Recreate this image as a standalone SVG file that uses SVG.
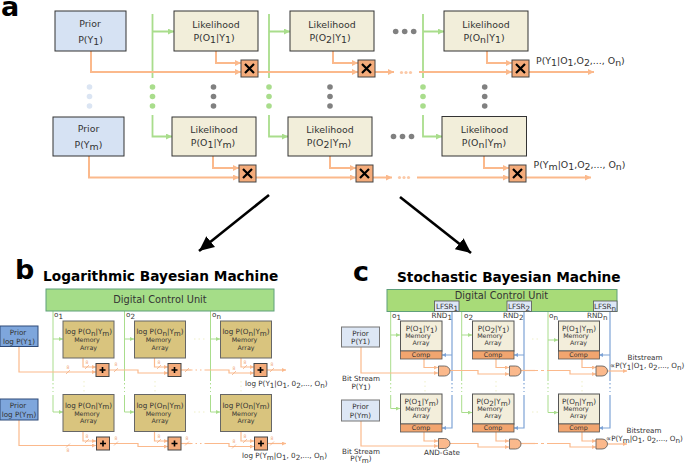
<svg xmlns="http://www.w3.org/2000/svg" width="685" height="463" viewBox="0 0 685 463">
<style>
text{font-family:"DejaVu Sans","Liberation Sans",sans-serif;fill:#333;text-anchor:middle}
.a{font-size:9.4px}
.c{font-size:7.2px}
.m{font-size:6.300px}
.w{font-size:4.6px;fill:#f0a878}
.l{text-anchor:start}
.big{font-size:27px;font-weight:bold;fill:#000;text-anchor:start}
.title{font-size:13.7px;font-weight:bold;fill:#000;text-anchor:start}
.pa{fill:#d6e2f3;stroke:#333;stroke-width:1}
.la{fill:#f2eeda;stroke:#333;stroke-width:1}
.xa{fill:#f4ab7a;stroke:#444;stroke-width:1}
.g{fill:none;stroke:#a9dd8c;stroke-width:1.800}
.o{fill:none;stroke:#fbb98c;stroke-width:2}
.g2{fill:none;stroke:#a9dd8c;stroke-width:1}
.o2{fill:none;stroke:#fbb98c;stroke-width:1.200}
.f{fill:none;stroke:#efefc8;stroke-width:1;stroke-dasharray:1.500 3}
.bl{fill:none;stroke:#7ea3d6;stroke-width:1.200}
.pb{fill:#7ea6dc;stroke:#2f4b78;stroke-width:1}
.mb{fill:#d9c47e;stroke:#666;stroke-width:1}
.pc{fill:#dde7f5;stroke:#777;stroke-width:1}
.mc{fill:#f3eedb;stroke:#555;stroke-width:1}
.cp{fill:#f2a56f;stroke:#555;stroke-width:.8}
.and{fill:#fbb98c;stroke:#555;stroke-width:.8}
.lf{fill:#dde7f5;stroke:#555;stroke-width:.8}
.k{fill:none;stroke:#000;stroke-width:2.600}
.sl{fill:none;stroke:#f0a878;stroke-width:.7}
</style>
<defs>
<marker id="mg" markerWidth="7" markerHeight="7" refX="6" refY="3" orient="auto" markerUnits="userSpaceOnUse"><path d="M0 0L6 3L0 6Z" fill="#a9dd8c"/></marker>
<marker id="mo" markerWidth="7" markerHeight="7" refX="6" refY="3" orient="auto" markerUnits="userSpaceOnUse"><path d="M0 0L6 3L0 6Z" fill="#fbb98c"/></marker>
<marker id="mg2" markerWidth="5" markerHeight="5" refX="4" refY="2" orient="auto" markerUnits="userSpaceOnUse"><path d="M0 0L4 2L0 4Z" fill="#a9dd8c"/></marker>
<marker id="mo2" markerWidth="5" markerHeight="5" refX="4" refY="2" orient="auto" markerUnits="userSpaceOnUse"><path d="M0 0L4 2L0 4Z" fill="#fbb98c"/></marker>
<marker id="mb2" markerWidth="5" markerHeight="5" refX="4" refY="2" orient="auto" markerUnits="userSpaceOnUse"><path d="M0 0L4 2L0 4Z" fill="#7ea3d6"/></marker>
<marker id="mk" markerWidth="16" markerHeight="15" refX="15" refY="7" orient="auto" markerUnits="userSpaceOnUse"><path d="M0 0L15 7L0 14Z" fill="#000"/></marker>
</defs>

<g id="connectors">
<path class="g" marker-end="url(#mg)" d="M152.500 14V78M152.500 31.500H174"/>
<path class="g" marker-end="url(#mg)" d="M269 14V78M269 31.500H290"/>
<path class="g" marker-end="url(#mg)" d="M423 14V78M423 31.500H444"/>
<path class="g" marker-end="url(#mg)" d="M152.500 115V136.500H172"/>
<path class="g" marker-end="url(#mg)" d="M269 115V136.500H288"/>
<path class="g" marker-end="url(#mg)" d="M423 115V136.500H442"/>
<path class="o" marker-end="url(#mo)" d="M91 51V72H241"/>
<path class="o" marker-end="url(#mo)" d="M216 51V63H241"/>
<path class="o" marker-end="url(#mo)" d="M258 72H358"/>
<path class="o" marker-end="url(#mo)" d="M333 51V63H358"/>
<path class="o" marker-end="url(#mo)" d="M375 72H394"/>
<path class="o" marker-end="url(#mo)" d="M419 72H512"/>
<path class="o" marker-end="url(#mo)" d="M487 51V63H512"/>
<path class="o" marker-end="url(#mo)" d="M529 72H594"/>
<path class="o" marker-end="url(#mo)" d="M89 156V177.500H239"/>
<path class="o" marker-end="url(#mo)" d="M213 156V168H239"/>
<path class="o" marker-end="url(#mo)" d="M256 177.500H356"/>
<path class="o" marker-end="url(#mo)" d="M330 156V168H356"/>
<path class="o" marker-end="url(#mo)" d="M372 177.500H392"/>
<path class="o" marker-end="url(#mo)" d="M417 177.500H509"/>
<path class="o" marker-end="url(#mo)" d="M484 156V168H509"/>
<path class="o" marker-end="url(#mo)" d="M526 177.500H591"/>
<path class="k" marker-end="url(#mk)" d="M269 195L199 251"/>
<path class="k" marker-end="url(#mk)" d="M400 197L471 253"/>

<path class="g2" marker-end="url(#mg2)" d="M53 311V381M53 339H63"/>
<path class="g2" marker-end="url(#mg2)" d="M124.500 311V381M124.500 339H134"/>
<path class="g2" marker-end="url(#mg2)" d="M210.500 311V381M210.500 339H220"/>
<path class="g2" marker-end="url(#mg2)" d="M53 395V412H63"/>
<path class="g2" marker-end="url(#mg2)" d="M124.500 395V412H134"/>
<path class="g2" marker-end="url(#mg2)" d="M210.500 395V412H220"/>
<path class="o2" marker-end="url(#mo2)" d="M19 346V372H96"/>
<path class="o2" marker-end="url(#mo2)" d="M83 358V367H96"/>
<path class="o2" marker-end="url(#mo2)" d="M109 370H138V373H168"/>
<path class="o2" marker-end="url(#mo2)" d="M154.500 358V367H168"/>
<path class="o2" d="M181 370H191"/>
<path class="o2" marker-end="url(#mo2)" d="M205 370H229V373H254"/>
<path class="o2" marker-end="url(#mo2)" d="M241 358V367H254"/>
<path class="o2" marker-end="url(#mo2)" d="M267 370H286"/>
<path class="o2" marker-end="url(#mo2)" d="M19 420V445.500H96"/>
<path class="o2" marker-end="url(#mo2)" d="M83 432V441H96"/>
<path class="o2" marker-end="url(#mo2)" d="M109 443.500H138V446.500H168"/>
<path class="o2" marker-end="url(#mo2)" d="M154.500 432V441H168"/>
<path class="o2" d="M181 443.500H191"/>
<path class="o2" marker-end="url(#mo2)" d="M205 443.500H229V446.500H254"/>
<path class="o2" marker-end="url(#mo2)" d="M241 432V441H254"/>
<path class="o2" marker-end="url(#mo2)" d="M267 443.500H286"/>
<path class="o2" stroke-dasharray="1.500 3" d="M191 370H205M191 443.500H205"/>
<path class="g2" stroke-dasharray="1.500 2.500" d="M53 383V392M124.500 383V392M210.500 383V392"/>
<path class="f" d="M84 381V392M155 381V392M241 381V392M194 339H205M194 412H205"/>
<path class="sl" d="M66 374L70 370M85 369L89 365M114 372L118 368M157 369L161 365M185 372L189 368M232 375L236 371M243 369L247 365M270 372L274 368M66 447.500L70 443.500M85 443L89 439M114 445.500L118 441.500M157 443L161 439M185 445.500L189 441.500M232 448.500L236 444.500M243 443L247 439M270 445.500L274 441.500"/>

<path class="g2" marker-end="url(#mg2)" d="M390.700 311V381M390.700 335H400"/>
<path class="g2" marker-end="url(#mg2)" d="M461.700 311V381M461.700 335H472"/>
<path class="g2" marker-end="url(#mg2)" d="M548 311V381M548 340H558"/>
<path class="g2" marker-end="url(#mg2)" d="M390.700 395V408.500H400"/>
<path class="g2" marker-end="url(#mg2)" d="M461.700 395V412.500H472"/>
<path class="g2" marker-end="url(#mg2)" d="M548 395V412.500H558"/>
<path class="g2" stroke-dasharray="1.500 2.500" d="M390.700 383V392M461.700 383V392M548 383V392"/>
<path class="bl" marker-end="url(#mb2)" d="M452 311V381M452 355H442"/>
<path class="bl" marker-end="url(#mb2)" d="M524 311V381M524 355H514"/>
<path class="bl" marker-end="url(#mb2)" d="M610 311V381M610 355H599"/>
<path class="bl" marker-end="url(#mb2)" d="M452 395V428H442"/>
<path class="bl" marker-end="url(#mb2)" d="M524 395V428H514"/>
<path class="bl" marker-end="url(#mb2)" d="M610 395V428H599"/>
<path class="bl" stroke-dasharray="1.500 2.500" d="M452 383V392M524 383V392M610 383V392"/>
<path class="o2" marker-end="url(#mo2)" d="M361 347V373H438"/>
<path class="o2" marker-end="url(#mo2)" d="M424 359V367.500H438"/>
<path class="o2" marker-end="url(#mo2)" d="M450 370.500H478V374H509"/>
<path class="o2" marker-end="url(#mo2)" d="M496 359V367.500H509"/>
<path class="o2" d="M521 370.500H535"/>
<path class="o2" stroke-dasharray="3 3" d="M535 370.500H550"/>
<path class="o2" marker-end="url(#mo2)" d="M550 370.500H570V374H596"/>
<path class="o2" marker-end="url(#mo2)" d="M582 359V367.500H596"/>
<path class="o2" marker-end="url(#mo2)" d="M608 371H627"/>
<path class="o2" marker-end="url(#mo2)" d="M361 421V446H438"/>
<path class="o2" marker-end="url(#mo2)" d="M424 432V441H438"/>
<path class="o2" marker-end="url(#mo2)" d="M450 443.500H478V447H509"/>
<path class="o2" marker-end="url(#mo2)" d="M496 432V441H509"/>
<path class="o2" d="M521 443.500H535"/>
<path class="o2" stroke-dasharray="3 3" d="M535 443.500H550"/>
<path class="o2" marker-end="url(#mo2)" d="M550 443.500H570V447H596"/>
<path class="o2" marker-end="url(#mo2)" d="M582 432V441H596"/>
<path class="o2" marker-end="url(#mo2)" d="M608 444H627"/>
<path class="f" d="M425 381V392M496 381V392M582 381V392M532 339H541M532 412H541"/>
</g>

<g id="dots-a">
<g fill="#dbe5f3"><circle cx="89.500" cy="87" r="2.800"/><circle cx="89.500" cy="96.500" r="2.800"/><circle cx="89.500" cy="106" r="2.800"/></g>
<g fill="#a9dd8c"><circle cx="152.500" cy="87" r="2.800"/><circle cx="152.500" cy="96.500" r="2.800"/><circle cx="152.500" cy="106" r="2.800"/><circle cx="269" cy="87" r="2.800"/><circle cx="269" cy="96.500" r="2.800"/><circle cx="269" cy="106" r="2.800"/><circle cx="423" cy="87" r="2.800"/><circle cx="423" cy="96.500" r="2.800"/><circle cx="423" cy="106" r="2.800"/></g>
<g fill="#808080"><circle cx="213.500" cy="87" r="2.800"/><circle cx="213.500" cy="96.500" r="2.800"/><circle cx="213.500" cy="106" r="2.800"/><circle cx="330" cy="87" r="2.800"/><circle cx="330" cy="96.500" r="2.800"/><circle cx="330" cy="106" r="2.800"/><circle cx="484.700" cy="87" r="2.800"/><circle cx="484.700" cy="96.500" r="2.800"/><circle cx="484.700" cy="106" r="2.800"/><circle cx="395.700" cy="31.500" r="2.800"/><circle cx="404.700" cy="31.500" r="2.800"/><circle cx="413.700" cy="31.500" r="2.800"/><circle cx="393.500" cy="136.500" r="2.800"/><circle cx="402.500" cy="136.500" r="2.800"/><circle cx="411.500" cy="136.500" r="2.800"/></g>
<g fill="#fbc9a8"><circle cx="401.500" cy="72.500" r="1.600"/><circle cx="406" cy="72.500" r="1.600"/><circle cx="410.500" cy="72.500" r="1.600"/><circle cx="399.500" cy="177.500" r="1.600"/><circle cx="404" cy="177.500" r="1.600"/><circle cx="408.500" cy="177.500" r="1.600"/></g>
</g>

<g id="prior-a1"><rect class="pa" x="55" y="11" width="71" height="40"/><text class="a" x="90" y="27">Prior</text><text class="a" x="90.500" y="43">P(Y<tspan dy="2">1</tspan><tspan dy="-2">)</tspan></text></g>
<g id="prior-am"><rect class="pa" x="53" y="117" width="71" height="39"/><text class="a" x="88.500" y="132">Prior</text><text class="a" x="88.500" y="148">P(Y<tspan dy="2">m</tspan><tspan dy="-2">)</tspan></text></g>
<g id="lik-a11"><rect class="la" x="174" y="11" width="84" height="40"/><text class="a" x="216" y="28">Likelihood</text><text class="a" x="214" y="41">P(O<tspan dy="2">1</tspan><tspan dy="-2">|Y</tspan><tspan dy="2">1</tspan><tspan dy="-2">)</tspan></text></g>
<g id="lik-a21"><rect class="la" x="290" y="11" width="84" height="40"/><text class="a" x="332" y="28">Likelihood</text><text class="a" x="330" y="41">P(O<tspan dy="2">2</tspan><tspan dy="-2">|Y</tspan><tspan dy="2">1</tspan><tspan dy="-2">)</tspan></text></g>
<g id="lik-an1"><rect class="la" x="444" y="11" width="84" height="40"/><text class="a" x="486" y="28">Likelihood</text><text class="a" x="484" y="41">P(O<tspan dy="2">n</tspan><tspan dy="-2">|Y</tspan><tspan dy="2">1</tspan><tspan dy="-2">)</tspan></text></g>
<g id="lik-a1m"><rect class="la" x="172" y="117" width="84" height="39"/><text class="a" x="214" y="133">Likelihood</text><text class="a" x="213" y="146">P(O<tspan dy="2">1</tspan><tspan dy="-2">|Y</tspan><tspan dy="2">m</tspan><tspan dy="-2">)</tspan></text></g>
<g id="lik-a2m"><rect class="la" x="288" y="117" width="84" height="39"/><text class="a" x="330" y="133">Likelihood</text><text class="a" x="329" y="146">P(O<tspan dy="2">2</tspan><tspan dy="-2">|Y</tspan><tspan dy="2">m</tspan><tspan dy="-2">)</tspan></text></g>
<g id="lik-anm"><rect class="la" x="442" y="116.500" width="84.500" height="39.500"/><text class="a" x="484.500" y="132.500">Likelihood</text><text class="a" x="484" y="145.500">P(O<tspan dy="2">n</tspan><tspan dy="-2">|Y</tspan><tspan dy="2">m</tspan><tspan dy="-2">)</tspan></text></g>
<g id="mul-a11"><rect class="xa" x="241" y="60" width="17" height="17"/><path d="M245 64L254 73M254 64L245 73" stroke="#000" stroke-width="2.200"/></g>
<g id="mul-a21"><rect class="xa" x="358" y="60" width="17" height="17"/><path d="M362 64L371 73M371 64L362 73" stroke="#000" stroke-width="2.200"/></g>
<g id="mul-an1"><rect class="xa" x="512" y="60" width="17" height="17"/><path d="M516 64L525 73M525 64L516 73" stroke="#000" stroke-width="2.200"/></g>
<g id="mul-a1m"><rect class="xa" x="239" y="165" width="17" height="17"/><path d="M243 169L252 178M252 169L243 178" stroke="#000" stroke-width="2.200"/></g>
<g id="mul-a2m"><rect class="xa" x="356" y="165" width="17" height="17"/><path d="M360 169L369 178M369 169L360 178" stroke="#000" stroke-width="2.200"/></g>
<g id="mul-anm"><rect class="xa" x="509" y="165" width="17" height="17"/><path d="M513 169L522 178M522 169L513 178" stroke="#000" stroke-width="2.200"/></g>
<g id="labels-a">
<text class="big" x="1" y="16">a</text>
<text class="a l" x="536" y="64">P(Y<tspan dy="2">1</tspan><tspan dy="-2">|O</tspan><tspan dy="2">1</tspan><tspan dy="-2">,O</tspan><tspan dy="2">2</tspan><tspan dy="-2">,..., O</tspan><tspan dy="2">n</tspan><tspan dy="-2">)</tspan></text>
<text class="a l" x="533.500" y="168">P(Y<tspan dy="2">m</tspan><tspan dy="-2">|O</tspan><tspan dy="2">1</tspan><tspan dy="-2">,O</tspan><tspan dy="2">2</tspan><tspan dy="-2">,..., O</tspan><tspan dy="2">n</tspan><tspan dy="-2">)</tspan></text>
</g>

<g id="labels-b"><text class="big" x="15" y="279">b</text><text class="title" x="43" y="281">Logarithmic Bayesian Machine</text></g>
<g id="cu-b"><rect x="46" y="289" width="228" height="22" fill="#a5dd88" stroke="#5f9f7a"/><text x="160" y="303" font-size="9.800">Digital Control Unit</text></g>
<g id="prior-b1"><rect class="pb" x="0" y="326" width="38" height="20.500"/><text class="c" x="18" y="335">Prior</text><text class="c" x="19" y="343.500">log P(Y<tspan dy="1.500">1</tspan><tspan dy="-1.500">)</tspan></text></g>
<g id="prior-bm"><rect class="pb" x="0" y="399" width="38" height="21"/><text class="c" x="18" y="408">Prior</text><text class="c" x="19" y="416.500">log P(Y<tspan dy="1.500">m</tspan><tspan dy="-1.500">)</tspan></text></g>
<g id="mem-b11"><rect class="mb" x="63" y="321" width="51" height="37"/><text class="c" x="88.500" y="334">log P(O<tspan dy="1.500">n</tspan><tspan dy="-1.500">|Y</tspan><tspan dy="1.500">m</tspan><tspan dy="-1.500">)</tspan></text><text class="m" x="87" y="342">Memory</text><text class="m" x="88.500" y="349.500">Array</text></g>
<g id="mem-b21"><rect class="mb" x="134.500" y="321" width="51" height="37"/><text class="c" x="160" y="334">log P(O<tspan dy="1.500">n</tspan><tspan dy="-1.500">|Y</tspan><tspan dy="1.500">m</tspan><tspan dy="-1.500">)</tspan></text><text class="m" x="158.500" y="342">Memory</text><text class="m" x="160" y="349.500">Array</text></g>
<g id="mem-bn1"><rect class="mb" x="220.500" y="321" width="51" height="37"/><text class="c" x="246" y="334">log P(O<tspan dy="1.500">n</tspan><tspan dy="-1.500">|Y</tspan><tspan dy="1.500">m</tspan><tspan dy="-1.500">)</tspan></text><text class="m" x="244.500" y="342">Memory</text><text class="m" x="246" y="349.500">Array</text></g>
<g id="mem-b1m"><rect class="mb" x="63" y="394.500" width="51" height="37"/><text class="c" x="88.500" y="407.500">log P(O<tspan dy="1.500">n</tspan><tspan dy="-1.500">|Y</tspan><tspan dy="1.500">m</tspan><tspan dy="-1.500">)</tspan></text><text class="m" x="87" y="415.500">Memory</text><text class="m" x="88.500" y="423">Array</text></g>
<g id="mem-b2m"><rect class="mb" x="134.500" y="394.500" width="51" height="37"/><text class="c" x="160" y="407.500">log P(O<tspan dy="1.500">n</tspan><tspan dy="-1.500">|Y</tspan><tspan dy="1.500">m</tspan><tspan dy="-1.500">)</tspan></text><text class="m" x="158.500" y="415.500">Memory</text><text class="m" x="160" y="423">Array</text></g>
<g id="mem-bnm"><rect class="mb" x="220.500" y="394.500" width="51" height="37"/><text class="c" x="246" y="407.500">log P(O<tspan dy="1.500">n</tspan><tspan dy="-1.500">|Y</tspan><tspan dy="1.500">m</tspan><tspan dy="-1.500">)</tspan></text><text class="m" x="244.500" y="415.500">Memory</text><text class="m" x="246" y="423">Array</text></g>
<g id="add-b11"><rect class="xa" x="96" y="363.500" width="13" height="13"/><path d="M99.500 370H105.500M102.500 367V373" stroke="#000" stroke-width="1.600"/></g>
<g id="add-b21"><rect class="xa" x="168" y="363.500" width="13" height="13"/><path d="M171.500 370H177.500M174.500 367V373" stroke="#000" stroke-width="1.600"/></g>
<g id="add-bn1"><rect class="xa" x="254" y="363.500" width="13" height="13"/><path d="M257.500 370H263.500M260.500 367V373" stroke="#000" stroke-width="1.600"/></g>
<g id="add-b1m"><rect class="xa" x="96.500" y="437" width="13" height="13"/><path d="M100 443.500H106M103 440.500V446.500" stroke="#000" stroke-width="1.600"/></g>
<g id="add-b2m"><rect class="xa" x="168" y="437" width="13" height="13"/><path d="M171.500 443.500H177.500M174.500 440.500V446.500" stroke="#000" stroke-width="1.600"/></g>
<g id="add-bnm"><rect class="xa" x="254.500" y="437" width="13" height="13"/><path d="M258 443.500H264M261 440.500V446.500" stroke="#000" stroke-width="1.600"/></g>
<g id="text-b">
<text class="c l" x="54" y="317">o<tspan dy="1.500">1</tspan></text>
<text class="c l" x="126" y="317">o<tspan dy="1.500">2</tspan></text>
<text class="c l" x="212" y="317">o<tspan dy="1.500">n</tspan></text>
<text class="c l" x="245" y="386">log P(Y<tspan dy="1.500">1</tspan><tspan dy="-1.500">|O</tspan><tspan dy="1.500">1</tspan><tspan dy="-1.500">, 0</tspan><tspan dy="1.500">2</tspan><tspan dy="-1.500">,..., O</tspan><tspan dy="1.500">n</tspan><tspan dy="-1.500">)</tspan></text>
<text class="c l" x="242" y="458">log P(Y<tspan dy="1.500">m</tspan><tspan dy="-1.500">|O</tspan><tspan dy="1.500">1</tspan><tspan dy="-1.500">, 0</tspan><tspan dy="1.500">2</tspan><tspan dy="-1.500">,..., O</tspan><tspan dy="1.500">n</tspan><tspan dy="-1.500">)</tspan></text>
<text class="w" x="68" y="369">8</text><text class="w" x="87" y="364">8</text><text class="w" x="116" y="366">8</text><text class="w" x="159" y="364">8</text><text class="w" x="234" y="370">8</text><text class="w" x="245" y="364">8</text><text class="w" x="272" y="366">8</text>
<text class="w" x="68" y="452">8</text><text class="w" x="87" y="438">8</text><text class="w" x="116" y="440">8</text><text class="w" x="159" y="438">8</text><text class="w" x="187" y="440">8</text><text class="w" x="234" y="443">8</text><text class="w" x="245" y="438">8</text><text class="w" x="272" y="440">8</text>
</g>

<g id="labels-c"><text class="big" x="353" y="281">c</text><text class="title" x="397" y="282">Stochastic Bayesian Machine</text></g>
<g id="cu-c"><rect x="387" y="289.500" width="230" height="22" fill="#a8db78" stroke="#5f9f7a"/><text x="501.500" y="299" font-size="9.800">Digital Control Unit</text></g>
<g id="lfsr-1"><rect class="lf" x="434.500" y="301" width="24.500" height="10.500"/><text class="c" x="447" y="309">LFSR<tspan dy="1.500">1</tspan></text></g>
<g id="lfsr-2"><rect class="lf" x="507" y="301" width="24.500" height="10.500"/><text class="c" x="519" y="309">LFSR<tspan dy="1.500">2</tspan></text></g>
<g id="lfsr-n"><rect class="lf" x="593.500" y="301" width="23.500" height="10.500"/><text class="c" x="605" y="309">LFSR<tspan dy="1.500">n</tspan></text></g>
<g id="prior-c1"><rect class="pc" x="341.500" y="327" width="38" height="20"/><text class="c" x="360.500" y="335.500">Prior</text><text class="c" x="360.500" y="344">P(Y1)</text></g>
<g id="prior-cm"><rect class="pc" x="341.500" y="400" width="38" height="21"/><text class="c" x="360.500" y="409">Prior</text><text class="c" x="360.500" y="417.500">P(Ym)</text></g>
<g id="mem-c11"><rect class="mc" x="400.500" y="321" width="41.500" height="30"/><rect class="cp" x="400.500" y="351" width="41.500" height="8"/><text class="c" x="421.500" y="331">P(O<tspan dy="1.500">1</tspan><tspan dy="-1.500">|Y</tspan><tspan dy="1.500">1</tspan><tspan dy="-1.500">)</tspan></text><text class="m" x="418" y="338">Memory</text><text class="m" x="421" y="345">Array</text><text class="m" x="421" y="357">Comp</text></g>
<g id="mem-c21"><rect class="mc" x="472.500" y="321" width="41.500" height="30"/><rect class="cp" x="472.500" y="351" width="41.500" height="8"/><text class="c" x="493.500" y="331">P(O<tspan dy="1.500">2</tspan><tspan dy="-1.500">|Y</tspan><tspan dy="1.500">1</tspan><tspan dy="-1.500">)</tspan></text><text class="m" x="490" y="338">Memory</text><text class="m" x="493" y="345">Array</text><text class="m" x="493" y="357">Comp</text></g>
<g id="mem-cn1"><rect class="mc" x="558.500" y="321" width="41" height="30"/><rect class="cp" x="558.500" y="351" width="41" height="8"/><text class="c" x="579" y="331">P(O<tspan dy="1.500">1</tspan><tspan dy="-1.500">|Y</tspan><tspan dy="1.500">m</tspan><tspan dy="-1.500">)</tspan></text><text class="m" x="576" y="338">Memory</text><text class="m" x="578.500" y="345">Array</text><text class="m" x="578.500" y="357">Comp</text></g>
<g id="mem-c1m"><rect class="mc" x="400.500" y="394" width="41.500" height="30"/><rect class="cp" x="400.500" y="424" width="41.500" height="8"/><text class="c" x="421.500" y="404">P(O<tspan dy="1.500">1</tspan><tspan dy="-1.500">|Y</tspan><tspan dy="1.500">m</tspan><tspan dy="-1.500">)</tspan></text><text class="m" x="418" y="411">Memory</text><text class="m" x="421" y="418">Array</text><text class="m" x="421" y="430">Comp</text></g>
<g id="mem-c2m"><rect class="mc" x="472.500" y="394" width="41.500" height="30"/><rect class="cp" x="472.500" y="424" width="41.500" height="8"/><text class="c" x="493.500" y="404">P(O<tspan dy="1.500">2</tspan><tspan dy="-1.500">|Y</tspan><tspan dy="1.500">m</tspan><tspan dy="-1.500">)</tspan></text><text class="m" x="490" y="411">Memory</text><text class="m" x="493" y="418">Array</text><text class="m" x="493" y="430">Comp</text></g>
<g id="mem-cnm"><rect class="mc" x="558.500" y="394" width="41" height="30"/><rect class="cp" x="558.500" y="424" width="41" height="8"/><text class="c" x="579" y="404">P(O<tspan dy="1.500">n</tspan><tspan dy="-1.500">|Y</tspan><tspan dy="1.500">m</tspan><tspan dy="-1.500">)</tspan></text><text class="m" x="576" y="411">Memory</text><text class="m" x="578.500" y="418">Array</text><text class="m" x="578.500" y="430">Comp</text></g>
<g id="and-c11"><path class="and" d="M438.500 366H444.500A5.500 5 0 0 1 444.500 376H438.500Z"/></g>
<g id="and-c21"><path class="and" d="M509.500 366H515.500A5.500 5 0 0 1 515.500 376H509.500Z"/></g>
<g id="and-cn1"><path class="and" d="M596 366H602A5.500 5 0 0 1 602 376H596Z"/></g>
<g id="and-c1m"><path class="and" d="M438.500 438.500H444.500A5.500 5 0 0 1 444.500 448.500H438.500Z"/></g>
<g id="and-c2m"><path class="and" d="M509.500 439H515.500A5.500 5 0 0 1 515.500 449H509.500Z"/></g>
<g id="and-cnm"><path class="and" d="M596 439H602A5.500 5 0 0 1 602 449H596Z"/></g>
<g id="text-c">
<text class="c l" x="392" y="318">o<tspan dy="1.500">1</tspan></text>
<text class="c l" x="464" y="318">o<tspan dy="1.500">2</tspan></text>
<text class="c l" x="549" y="318">o<tspan dy="1.500">n</tspan></text>
<text class="c l" x="431.500" y="318">RND<tspan dy="1.500">1</tspan></text>
<text class="c l" x="503" y="318">RND<tspan dy="1.500">2</tspan></text>
<text class="c l" x="587" y="318">RND<tspan dy="1.500">n</tspan></text>
<text class="c" x="361" y="381">Bit Stream</text>
<text class="c" x="361" y="388.500">P(Y<tspan dy="1.500">1</tspan><tspan dy="-1.500">)</tspan></text>
<text class="c" x="361" y="454">Bit Stream</text>
<text class="c" x="361" y="461">P(Y<tspan dy="1.500">m</tspan><tspan dy="-1.500">)</tspan></text>
<text class="c" x="442" y="455">AND-Gate</text>
<text class="c" x="645" y="360">Bitstream</text>
<text class="c l" x="610" y="368">∝P(Y<tspan dy="1.500">1</tspan><tspan dy="-1.500">|O</tspan><tspan dy="1.500">1</tspan><tspan dy="-1.500">, 0</tspan><tspan dy="1.500">2</tspan><tspan dy="-1.500">,..., O</tspan><tspan dy="1.500">n</tspan><tspan dy="-1.500">)</tspan></text>
<text class="c" x="644" y="433">Bitstream</text>
<text class="c l" x="606" y="441">∝P(Y<tspan dy="1.500">m</tspan><tspan dy="-1.500">|O</tspan><tspan dy="1.500">1</tspan><tspan dy="-1.500">, 0</tspan><tspan dy="1.500">2</tspan><tspan dy="-1.500">,..., O</tspan><tspan dy="1.500">n</tspan><tspan dy="-1.500">)</tspan></text>
</g>
</svg>
